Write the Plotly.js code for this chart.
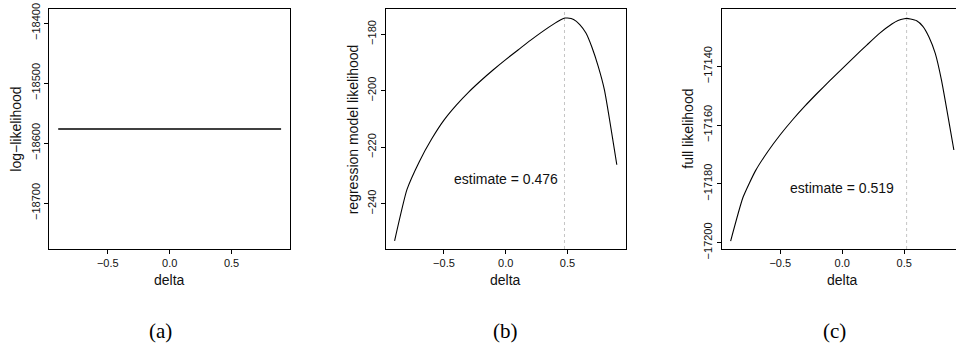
<!DOCTYPE html>
<html>
<head>
<meta charset="utf-8">
<script src="https://cdn.plot.ly/plotly-3.0.1.min.js"></script>
<style>
html,body{margin:0;padding:0;overflow:hidden;background:#fff;width:956px;height:348px;}
#plot{width:970px;height:348px;}
</style>
</head>
<body>
<div id="plot"></div>
<script>
// ---- data ----
const deltaA = [-0.9, 0.9];
const loglikA = [-18576.5, -18576.5];

const deltaB = [-0.9, -0.8, -0.7, -0.6, -0.5, -0.4, -0.3, -0.2, -0.1, 0.0, 0.1, 0.2, 0.3, 0.4, 0.45, 0.48, 0.5, 0.55, 0.6, 0.65, 0.7, 0.75, 0.8, 0.9];
const regLikB = [-253.1, -235.0, -225.1, -217.1, -210.4, -205.1, -200.5, -196.4, -192.6, -189.0, -185.6, -182.2, -179.0, -176.1, -174.8, -174.3, -174.3, -174.8, -176.6, -179.6, -184.8, -191.5, -199.8, -226.2];

const deltaC = [-0.9, -0.8, -0.7, -0.6, -0.5, -0.4, -0.3, -0.2, -0.1, 0.0, 0.1, 0.2, 0.3, 0.4, 0.45, 0.5, 0.52, 0.55, 0.6, 0.65, 0.7, 0.75, 0.8, 0.9];
const fullLikC = [-17199.5, -17184.6, -17175.6, -17169.0, -17163.3, -17158.2, -17153.5, -17149.1, -17144.9, -17140.8, -17136.7, -17132.7, -17128.8, -17125.6, -17124.4, -17123.8, -17123.7, -17123.9, -17124.5, -17126.4, -17130.1, -17135.6, -17144.7, -17168.5];

const estimates = [0.476, 0.519];
const estimateLabelY = [-231.2, -17181.3];
const captions = ["(a)", "(b)", "(c)"];
const yTitles = ["log\u2212likelihood", "regression model likelihood", "full likelihood"];
const xTitle = "delta";

// ---- layout geometry ----
const W = 970, H = 348;
const px = v => v / W;
const py = v => 1 - v / H;
const yDom = [py(249), py(9)];
const boxes = [[49.3, 290], [385.7, 625.7], [721.7, 962.8]];

const tickFont = {family: "Liberation Sans, Arial, sans-serif", size: 11, color: "#111"};
const labFont = {family: "Liberation Sans, Arial, sans-serif", size: 14, color: "#111"};

function xax(i) {
  return {
    domain: [px(boxes[i][0]), px(boxes[i][1])],
    anchor: i === 0 ? 'y' : 'y' + (i + 1),
    range: [-0.972, 0.972],
    tickvals: [-0.5, 0, 0.5],
    tickformat: '.1f',
    ticks: 'outside', ticklen: 4, tickwidth: 1, tickcolor: '#000',
    showline: true, mirror: true, linecolor: '#000', linewidth: 1,
    showgrid: false, zeroline: false,
    tickfont: tickFont, fixedrange: true
  };
}
function yax(i, range, dtick) {
  return {
    domain: yDom,
    anchor: i === 0 ? 'x' : 'x' + (i + 1),
    range: range,
    dtick: dtick,
    tickformat: 'd',
    tickangle: -90,
    ticks: 'outside', ticklen: 4, tickwidth: 1, tickcolor: '#000',
    showline: true, mirror: true, linecolor: '#000', linewidth: 1,
    showgrid: false, zeroline: false,
    tickfont: tickFont, fixedrange: true
  };
}

const lineStyle = {color: '#000', width: 1.1, shape: 'spline', smoothing: 0.5};
const traces = [
  {x: deltaA, y: loglikA, xaxis: 'x', yaxis: 'y', mode: 'lines', line: {color: '#000', width: 1.3}, hoverinfo: 'skip'},
  {x: deltaB, y: regLikB, xaxis: 'x2', yaxis: 'y2', mode: 'lines', line: lineStyle, hoverinfo: 'skip'},
  {x: deltaC, y: fullLikC, xaxis: 'x3', yaxis: 'y3', mode: 'lines', line: lineStyle, hoverinfo: 'skip'}
];

const annotations = [];
const capX = [160, 505, 834];
const yTitleX = [15.7, 353.3, 687.7];
for (let i = 0; i < 3; i++) {
  const cx = (boxes[i][0] + boxes[i][1]) / 2;
  annotations.push({xref: 'paper', yref: 'paper', x: px(cx), y: py(279.5), text: xTitle, showarrow: false, font: labFont, xanchor: 'center', yanchor: 'middle'});
  annotations.push({xref: 'paper', yref: 'paper', x: px(yTitleX[i]), y: py(129), text: yTitles[i], showarrow: false, font: labFont, textangle: -90, xanchor: 'center', yanchor: 'middle'});
  annotations.push({xref: 'paper', yref: 'paper', x: px(capX[i]), y: py(331), text: captions[i], showarrow: false, font: {family: "Liberation Serif, serif", size: 21, color: '#000'}, xanchor: 'center', yanchor: 'middle'});
}
annotations.push({xref: 'x2', yref: 'y2', x: 0, y: estimateLabelY[0], text: 'estimate = ' + estimates[0], showarrow: false, font: labFont, xanchor: 'center', yanchor: 'middle'});
annotations.push({xref: 'x3', yref: 'y3', x: 0, y: estimateLabelY[1], text: 'estimate = ' + estimates[1], showarrow: false, font: labFont, xanchor: 'center', yanchor: 'middle'});

const shapes = [
  {type: 'line', xref: 'x2', yref: 'y2 domain', x0: estimates[0], x1: estimates[0], y0: 0, y1: 1, line: {color: '#c4c4c4', width: 1, dash: '3px,3px'}, layer: 'below'},
  {type: 'line', xref: 'x3', yref: 'y3 domain', x0: estimates[1], x1: estimates[1], y0: 0, y1: 1, line: {color: '#c4c4c4', width: 1, dash: '3px,3px'}, layer: 'below'}
];

const layout = {
  width: W, height: H,
  margin: {l: 0, r: 0, t: 0, b: 0},
  paper_bgcolor: '#fff', plot_bgcolor: '#fff',
  showlegend: false,
  xaxis: xax(0), xaxis2: xax(1), xaxis3: xax(2),
  yaxis: yax(0, [-18776.5, -18376.5], 100),
  yaxis2: yax(1, [-256.0, -171.1], 20),
  yaxis3: yax(2, [-17202.2, -17120.5], 20),
  annotations: annotations,
  shapes: shapes
};

Plotly.newPlot('plot', traces, layout, {staticPlot: true, displayModeBar: false});
</script>
</body>
</html>
